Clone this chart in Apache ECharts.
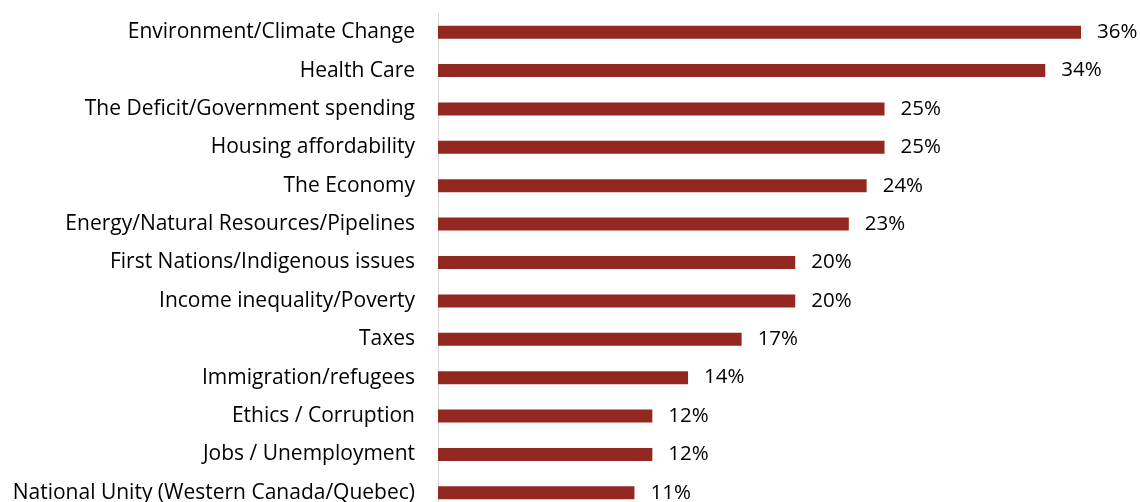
<!DOCTYPE html>
<html>
<head>
<meta charset="utf-8">
<script src="https://cdn.jsdelivr.net/npm/echarts@6/dist/echarts.min.js"></script>
<style>
  html, body { margin: 0; padding: 0; background: #fff; overflow: hidden; }
  #chart { width: 1140px; height: 502px; }
</style>
</head>
<body>
<div id="chart"></div>
<script>
// Most important issues (% of respondents)
const categories = [
  'Environment/Climate Change',
  'Health Care',
  'The Deficit/Government spending',
  'Housing affordability',
  'The Economy',
  'Energy/Natural Resources/Pipelines',
  'First Nations/Indigenous issues',
  'Income inequality/Poverty',
  'Taxes',
  'Immigration/refugees',
  'Ethics / Corruption',
  'Jobs / Unemployment',
  'National Unity (Western Canada/Quebec)'
];
const values = [36, 34, 25, 25, 24, 23, 20, 20, 17, 14, 12, 12, 11];

const FONT = '"Open Sans", "Noto Sans", sans-serif';
const chart = echarts.init(document.getElementById('chart'), null, { renderer: 'canvas' });

chart.setOption({
  animation: false,
  grid: {
    left: 438, top: 13, width: 643, height: 499,
    containLabel: false,
    outerBoundsMode: 'none'
  },
  xAxis: {
    type: 'value',
    min: 0,
    max: 36,
    show: false
  },
  yAxis: {
    type: 'category',
    data: categories,
    inverse: true,
    axisLine: { show: true, lineStyle: { color: '#d9d9d9', width: 1 } },
    axisTick: { show: false },
    axisLabel: {
      margin: 23,
      color: '#000',
      fontFamily: FONT,
      fontSize: 21,
      padding: [4, 0, 0, 0]
    }
  },
  series: [{
    type: 'bar',
    data: values,
    barWidth: 13,
    itemStyle: { color: '#922820' },
    label: {
      show: true,
      position: 'right',
      distance: 16,
      formatter: '{c}%',
      color: '#000',
      fontFamily: FONT,
      fontSize: 20.5,
      padding: [4, 0, 0, 0]
    }
  }]
});
</script>
</body>
</html>
